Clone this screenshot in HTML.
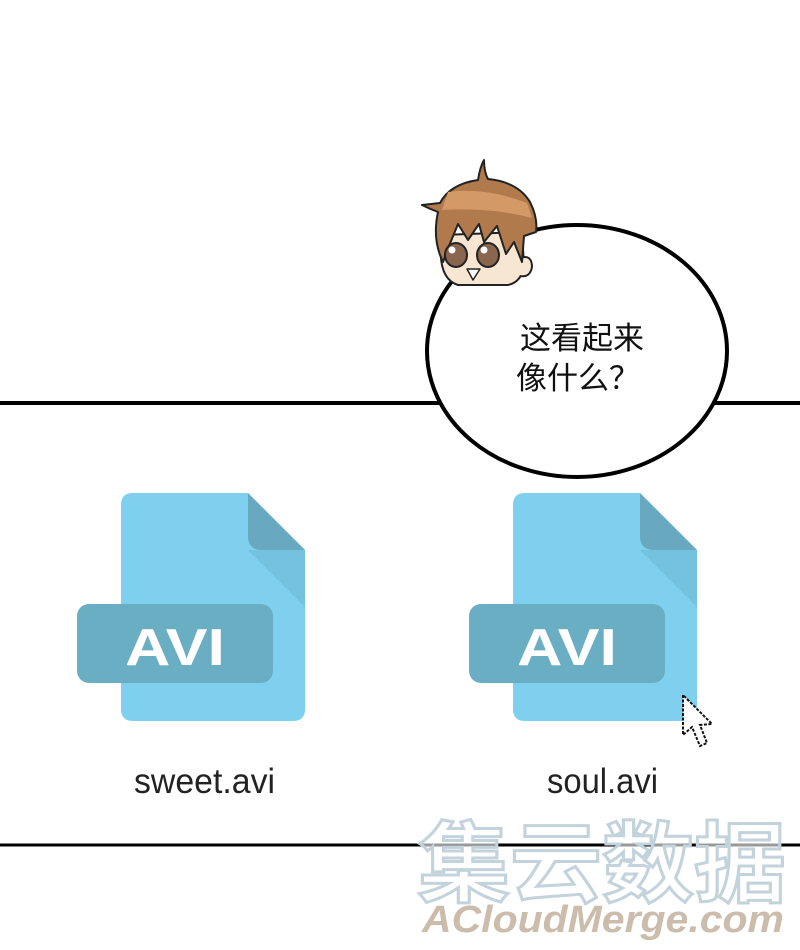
<!DOCTYPE html>
<html><head><meta charset="utf-8"><style>html,body{margin:0;padding:0;background:#fff}svg{display:block}</style></head>
<body>
<svg width="800" height="950" viewBox="0 0 800 950" xmlns="http://www.w3.org/2000/svg">
<rect width="800" height="950" fill="#fff"/>
<line x1="0" y1="403" x2="800" y2="403" stroke="#000" stroke-width="4"/>
<line x1="0" y1="845" x2="800" y2="845" stroke="#000" stroke-width="3"/>

<!-- bubble -->
<ellipse cx="577" cy="351" rx="150" ry="126" fill="#fff" stroke="#000" stroke-width="4"/>
<text x="582" y="349" font-family="Liberation Sans, Noto Sans CJK SC, sans-serif" font-size="31" text-anchor="middle" fill="#111">这看起来</text>
<text x="578" y="389" font-family="Liberation Sans, Noto Sans CJK SC, sans-serif" font-size="31" text-anchor="middle" fill="#111">像什么？</text>

<!-- head (in front of bubble) -->
<g stroke="#222" stroke-width="2" stroke-linejoin="round">
  <path d="M442 235 Q436 278 458 285 L508 285 Q522 282 524 265 L522 232 Z" fill="#f7e6d2"/>
  <path d="M520 258 q12 -4 12 9 q-2 11 -12 9" fill="#f7e6d2"/>
  <path d="M422 205 L440 203 Q450 184 478 180 Q480 167 484 160 Q484 172 488 179 Q518 182 530 202 Q538 218 536 232 L524 236 L522 262 L514 242 L506 254 L497 226 L484 242 L479 224 L468 240 L458 224 L449 246 L443 262 Q432 240 438 212 Q430 209 422 205 Z" fill="#b07a4c"/>
  <path d="M448 192 Q485 187 527 203 L532 218 Q490 207 442 210 Z" fill="#d39a68" stroke="none"/>
  <ellipse cx="456" cy="255" rx="11" ry="12" fill="#8a6550"/>
  <ellipse cx="488" cy="255" rx="11" ry="12" fill="#8a6550"/>
  <path d="M467 269 L480 269 L473 280 Z" fill="#fff" stroke-width="1.5"/>
</g>
<circle cx="452" cy="250" r="3.5" fill="#fff"/><circle cx="484" cy="250" r="3.5" fill="#fff"/>

<!-- file icons -->
<g>
  <path d="M133 493 L248 493 L305 550 L305 709 Q305 721 293 721 L133 721 Q121 721 121 709 L121 505 Q121 493 133 493 Z" fill="#7fd0ee"/>
  <path d="M248 493 L305 550 L262 550 Q248 550 248 536 Z" fill="#68a9c0"/>
  <path d="M248 550 L305 607 L305 550 Z" fill="#74c2de"/>
  <rect x="77" y="604" width="196" height="79" rx="12" fill="#6aaec4"/>
  <text x="175" y="665" font-family="Liberation Sans, sans-serif" font-size="52" font-weight="bold" text-anchor="middle" fill="#fff" textLength="100" lengthAdjust="spacingAndGlyphs">AVI</text>
</g>
<g transform="translate(392,0)">
  <path d="M133 493 L248 493 L305 550 L305 709 Q305 721 293 721 L133 721 Q121 721 121 709 L121 505 Q121 493 133 493 Z" fill="#7fd0ee"/>
  <path d="M248 493 L305 550 L262 550 Q248 550 248 536 Z" fill="#68a9c0"/>
  <path d="M248 550 L305 607 L305 550 Z" fill="#74c2de"/>
  <rect x="77" y="604" width="196" height="79" rx="12" fill="#6aaec4"/>
  <text x="175" y="665" font-family="Liberation Sans, sans-serif" font-size="52" font-weight="bold" text-anchor="middle" fill="#fff" textLength="100" lengthAdjust="spacingAndGlyphs">AVI</text>
</g>

<text x="134" y="793" font-family="Liberation Sans, sans-serif" font-size="35" fill="#222" textLength="141" lengthAdjust="spacingAndGlyphs">sweet.avi</text>
<text x="547" y="793" font-family="Liberation Sans, sans-serif" font-size="35" fill="#222" textLength="111" lengthAdjust="spacingAndGlyphs">soul.avi</text>

<!-- cursor -->
<path d="M683 695 L683 735 L692 727 L700 746 L707 743 L700 725 L712 724 Z" fill="#fff" stroke="#111" stroke-width="2" stroke-dasharray="3 1.5"/>

<!-- watermark -->
<text x="602" y="895" font-family="Liberation Sans, Noto Sans CJK SC, sans-serif" font-size="88" font-weight="bold" text-anchor="middle" fill="#fff" fill-opacity="0.6" stroke="#c3d3dc" stroke-width="3" textLength="368" lengthAdjust="spacingAndGlyphs">集云数据</text>
<text x="603" y="932" font-family="Liberation Sans, sans-serif" font-size="38" font-weight="bold" font-style="italic" text-anchor="middle" fill="#cbbcab" textLength="362" lengthAdjust="spacingAndGlyphs">ACloudMerge.com</text>
</svg>
</body></html>
